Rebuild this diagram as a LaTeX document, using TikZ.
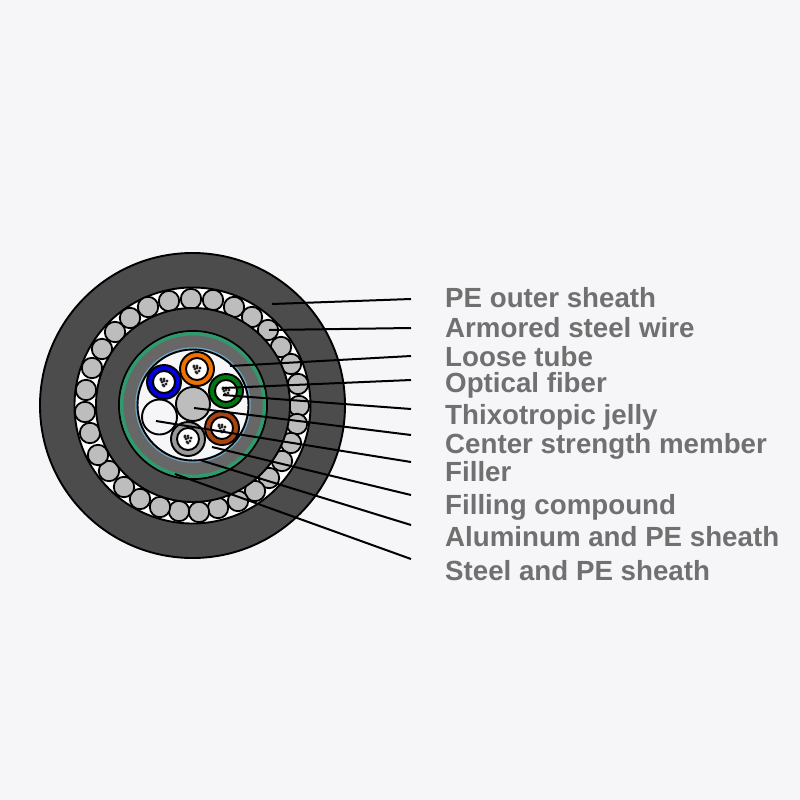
\documentclass[tikz,border=0pt]{standalone}
\usepackage{fontspec}
\setmainfont{Liberation Sans}
\definecolor{bgc}{HTML}{F6F6F9}
\definecolor{sheath}{HTML}{4C4C4D}
\definecolor{midgrey}{HTML}{676767}
\definecolor{wirec}{HTML}{BDBDBD}
\definecolor{greenr}{HTML}{2E9A6E}
\definecolor{bluet}{HTML}{6FA9C9}
\definecolor{labelc}{HTML}{707070}
\definecolor{tubeorange}{HTML}{F07000}
\definecolor{tubeblue}{HTML}{0000E0}
\definecolor{tubegreen}{HTML}{007A10}
\definecolor{tubebrown}{HTML}{A84410}
\definecolor{tubegrey}{HTML}{9A9A9A}
\tikzset{
  lbl/.style={anchor=base west,inner sep=0pt,text=labelc,font=\fontsize{27.7}{29}\selectfont\bfseries},
  wire/.style={draw=black,line width=1.8pt,fill=wirec},
  leader/.style={draw=black,line width=2pt},
  ring/.style={draw=black,line width=1.9pt},
}
\newcommand{\tube}[3]{%
  \fill[#3] (#1,#2) circle[radius=16.5];
  \draw[ring] (#1,#2) circle[radius=17];
  \fill[white] (#1,#2) circle[radius=11];
  \draw[ring] (#1,#2) circle[radius=11];
  \foreach \a/\b in {-3/-3,0/-3,3/-1,-2/0,0/-1,-1/3,2/2,0/4,-3/-2}{
    \fill[black!85] (#1+\a,#2+\b) circle[radius=1.7];
  }
}
\begin{document}
\begin{tikzpicture}[x=1pt,y=-1pt]
\fill[bgc] (0,0) rectangle (800,800);
\useasboundingbox (0,0) rectangle (800,800);
\draw[ring,fill=sheath] (192.5,405.5) circle[radius=152.5];
\draw[ring,fill=white] (192.5,405.5) circle[radius=118];
\foreach \x/\y in {191/299,213/300,234/307,252/317,268/330,281/347,291/364,298/384,299/406,297/424,291/443,282/461,269/478,255/491,238/501,218/508,199/512,179/511,160/507,140/499,124/487,109/471,98/455,90/433,85/412,86/390,92/368,102/349,115/332,130/318,148/307,169/301}{
  \draw[wire] (\x,\y) circle[radius=10.2];
}
\draw[ring,fill=sheath] (193,405) circle[radius=97];
\draw[ring,fill=midgrey] (193,405) circle[radius=74];
\draw[draw=greenr,line width=3.4pt] (193,405) circle[radius=71.3];
\draw[draw=bluet,line width=1.5pt] (193,405) circle[radius=57];
\draw[ring,fill=bgc] (193,405) circle[radius=55.5];
\tube{197}{369}{tubeorange}
\tube{164}{382}{tubeblue}
\tube{226}{391}{tubegreen}
\tube{222}{428}{tubebrown}
\tube{188}{439}{tubegrey}
\draw[ring,fill=bgc] (159.5,417) circle[radius=17.5];
\draw[ring,fill=wirec] (193,404) circle[radius=17];
\node[lbl] (t1) at (445,307.7) {PE outer sheath};
\node[lbl] (t2) at (445,337.3) {Armored steel wire};
\node[lbl] (t3) at (445,366.7) {Loose tube};
\node[lbl] (t4) at (445,392.7) {Optical fiber};
\node[lbl] (t5) at (445,424) {Thixotropic jelly};
\node[lbl] (t6) at (445,453) {Center strength member};
\node[lbl] (t7) at (445,481.7) {Filler};
\node[lbl] (t8) at (445,514.7) {Filling compound};
\node[lbl] (t9) at (445,546.7) {Aluminum and PE sheath};
\node[lbl] (t10) at (445,580.7) {Steel and PE sheath};
\coordinate (a1) at (272,304); \coordinate (b1) at (411,299);
\coordinate (a2) at (269,330); \coordinate (b2) at (411,328);
\coordinate (a3) at (230,366); \coordinate (b3) at (411,356);
\coordinate (a4) at (223,388); \coordinate (b4) at (411,380);
\coordinate (a5) at (223,395); \coordinate (b5) at (411,409);
\coordinate (a6) at (194,408); \coordinate (b6) at (411,435);
\coordinate (a7) at (156,421); \coordinate (b7) at (411,462);
\coordinate (a8) at (212,447); \coordinate (b8) at (411,495);
\coordinate (a9) at (200,460); \coordinate (b9) at (411,525);
\coordinate (a10) at (175,474); \coordinate (b10) at (411,559);
\foreach \i in {1,...,10}{\draw[leader] (a\i) -- (b\i);}
\end{tikzpicture}
\end{document}
